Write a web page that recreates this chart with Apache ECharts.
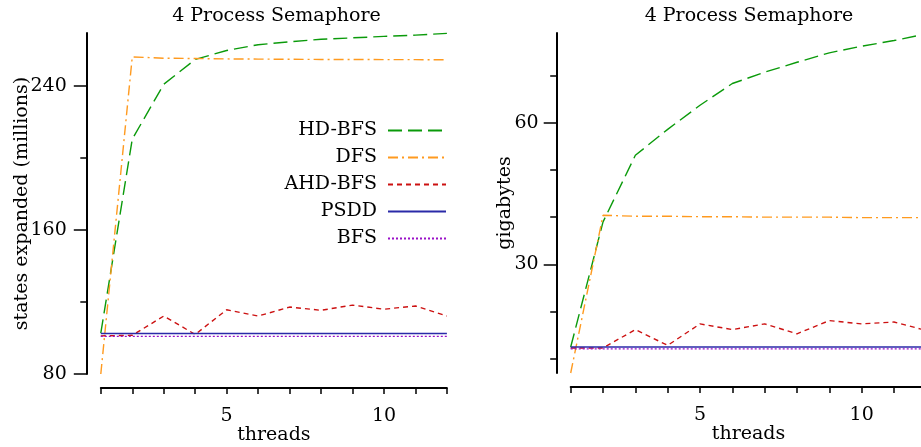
<!DOCTYPE html>
<html>
<head>
<meta charset="utf-8">
<script src="https://cdn.jsdelivr.net/npm/echarts@6/dist/echarts.min.js"></script>
<style>html,body{margin:0;padding:0;background:#fff}#c{width:921px;height:447px}</style>
</head>
<body>
<div id="c"></div>
<script>
const threads = [1, 2, 3, 4, 5, 6, 7, 8, 9, 10, 11, 12];
const seriesNames = ['HD-BFS', 'DFS', 'AHD-BFS', 'PSDD', 'BFS'];

// left: states expanded (millions)
const statesHD   = [102.7, 210.5, 241.0, 254.8, 259.8, 263.0, 264.6, 266.0, 266.8, 267.6, 268.3, 269.3];
const statesDFS  = [80.0, 256.2, 255.5, 255.3, 255.1, 255.0, 254.9, 254.8, 254.8, 254.7, 254.7, 254.6];
const statesAHD  = [101.2, 101.5, 112.2, 102.0, 115.7, 112.2, 117.2, 115.4, 118.3, 116.0, 117.8, 112.2];
const statesPSDD = [102.5, 102.5, 102.5, 102.5, 102.5, 102.5, 102.5, 102.5, 102.5, 102.5, 102.5, 102.5];
const statesBFS  = [100.9, 100.9, 100.9, 100.9, 100.9, 100.9, 100.9, 100.9, 100.9, 100.9, 100.9, 100.9];

// right: gigabytes
const gbHD   = [12.5, 39.0, 53.1, 58.6, 63.7, 68.3, 70.7, 72.8, 74.8, 76.2, 77.4, 78.8];
const gbDFS  = [7.0, 40.4, 40.2, 40.2, 40.1, 40.1, 40.0, 40.0, 40.0, 39.9, 39.9, 39.9];
const gbAHD  = [12.3, 12.3, 16.2, 12.85, 17.4, 16.2, 17.4, 15.3, 18.1, 17.4, 17.8, 16.0];
const gbPSDD = [12.5, 12.5, 12.5, 12.5, 12.5, 12.5, 12.5, 12.5, 12.5, 12.5, 12.5, 12.5];
const gbBFS  = [12.1, 12.1, 12.1, 12.1, 12.1, 12.1, 12.1, 12.1, 12.1, 12.1, 12.1, 12.1];

const xLabelTicks = [5, 10];
const leftMajor = [80, 160, 240];
const leftMinor = [120, 200];
const rightMajor = [30, 60];
const rightMinor = [10, 20, 40, 50, 70];

const FONT = 'DejaVu Serif';
const FS = 19;
const styles = {
  'HD-BFS':  {color: '#0a9a0a', type: [14, 6], width: 1.4},
  'DFS':     {color: '#ff9a1f', type: [10, 4, 2, 4], width: 1.4},
  'AHD-BFS': {color: '#cc1111', type: [5, 4], width: 1.4},
  'PSDD':    {color: '#2a2aa8', type: 'solid', width: 1.4},
  'BFS':     {color: '#9a10c8', type: [2, 2], width: 1.4}
};

const pair = arr => threads.map((t, i) => [t, arr[i]]);

function mkSeries(name, arr, xi, yi) {
  const s = styles[name];
  return {
    name, type: 'line', xAxisIndex: xi, yAxisIndex: yi,
    data: pair(arr), symbol: 'none', clip: false, silent: true,
    lineStyle: {color: s.color, type: s.type, width: s.width},
    itemStyle: {color: s.color},
    animation: false
  };
}

const xAxisBase = (gi) => ({
  gridIndex: gi, type: 'value', min: 1, max: 12, interval: 1, offset: 14,
  axisLine: {show: true, onZero: false, lineStyle: {color: '#000', width: 2}},
  axisTick: {show: true, length: 6, lineStyle: {color: '#000', width: 1.5}},
  axisLabel: {customValues: xLabelTicks, margin: 19, color: '#000', fontFamily: FONT, fontSize: FS},
  splitLine: {show: false},
  name: 'threads', nameLocation: 'middle', nameGap: 38, nameMoveOverlap: false,
  nameTextStyle: {color: '#000', fontFamily: FONT, fontSize: FS}
});

const yMajor = (gi, min, max, major, name, gap, margin) => ({
  gridIndex: gi, type: 'value', min, max, position: 'left', offset: 14,
  axisLine: {show: true, onZero: false, lineStyle: {color: '#000', width: 2}},
  axisTick: {show: true, length: 13, customValues: major, lineStyle: {color: '#000', width: 1.5}},
  axisLabel: {customValues: major, margin, color: '#000', fontFamily: FONT, fontSize: FS},
  splitLine: {show: false},
  name, nameLocation: 'middle', nameGap: gap, nameMoveOverlap: false,
  nameTextStyle: {color: '#000', fontFamily: FONT, fontSize: FS}
});
const yMinor = (gi, min, max, minor) => ({
  gridIndex: gi, type: 'value', min, max, position: 'left', offset: 14,
  axisLine: {show: false},
  axisTick: {show: true, length: 6.5, customValues: minor, lineStyle: {color: '#000', width: 1.5}},
  axisLabel: {show: false},
  splitLine: {show: false}
});

const legends = seriesNames.map((n, i) => ({
  data: [n], orient: 'vertical', right: 474, top: 121 + i * 27,
  align: 'right', itemWidth: 58, itemHeight: 14, padding: 0,
  selectedMode: false,
  itemStyle: {opacity: 0},
  textStyle: {color: '#000', fontFamily: FONT, fontSize: FS, padding: [0, 6, 0, 0]}
}));

const option = {
  animation: false,
  backgroundColor: '#fff',
  grid: [
    {left: 100.8, right: 474.1, top: 33, bottom: 73, outerBoundsMode: 'none'},
    {left: 570.7, right: -5.3, top: 33, bottom: 74, outerBoundsMode: 'none'}
  ],
  xAxis: [xAxisBase(0), xAxisBase(1)],
  yAxis: [
    yMajor(0, 80, 269.5, leftMajor, 'states expanded (millions)', 55, 20),
    yMinor(0, 80, 269.5, leftMinor),
    yMajor(1, 7, 79, rightMajor, 'gigabytes', 42, 18),
    yMinor(1, 7, 79, rightMinor)
  ],
  legend: legends,
  graphic: [
    {type: 'text', x: 276.5, y: 7, silent: true, style: {text: '4 Process Semaphore', fill: '#000', font: FS + 'px "' + FONT + '"', align: 'center', verticalAlign: 'top'}},
    {type: 'text', x: 749, y: 7, silent: true, style: {text: '4 Process Semaphore', fill: '#000', font: FS + 'px "' + FONT + '"', align: 'center', verticalAlign: 'top'}}
  ],
  series: [
    mkSeries('HD-BFS', statesHD, 0, 0),
    mkSeries('DFS', statesDFS, 0, 0),
    mkSeries('AHD-BFS', statesAHD, 0, 0),
    mkSeries('PSDD', statesPSDD, 0, 0),
    mkSeries('BFS', statesBFS, 0, 0),
    mkSeries('HD-BFS', gbHD, 1, 2),
    mkSeries('DFS', gbDFS, 1, 2),
    mkSeries('AHD-BFS', gbAHD, 1, 2),
    mkSeries('PSDD', gbPSDD, 1, 2),
    mkSeries('BFS', gbBFS, 1, 2)
  ]
};
const chart = echarts.init(document.getElementById('c'), null, {renderer: 'canvas'});
chart.setOption(option);
</script>
</body>
</html>
